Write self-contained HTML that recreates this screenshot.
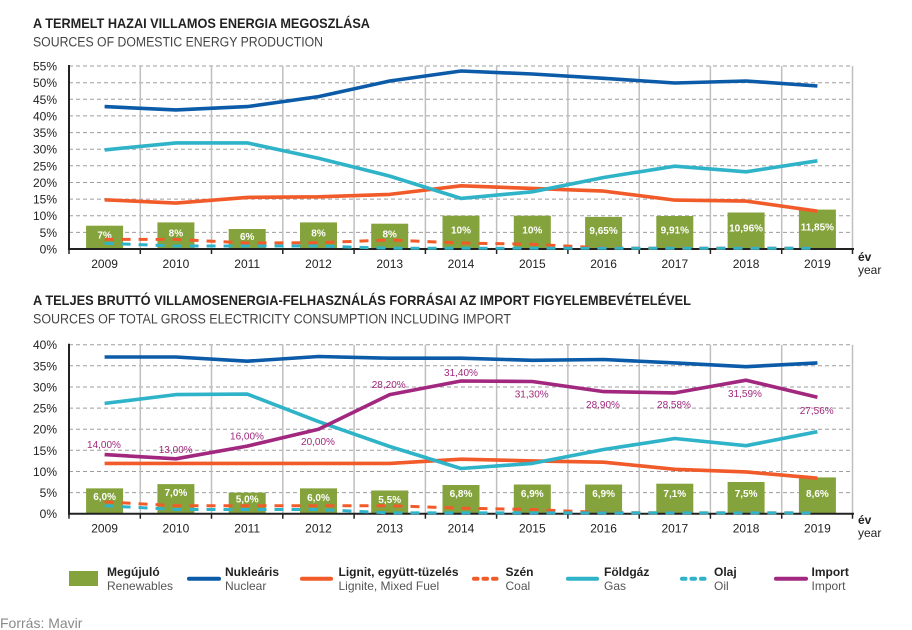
<!DOCTYPE html>
<html>
<head>
<meta charset="utf-8">
<style>
  html, body { margin:0; padding:0; background:#ffffff; }
  body { width:912px; height:630px; overflow:hidden; }
  svg { display:block; font-family:"Liberation Sans","DejaVu Sans",sans-serif; }
  .tick { font-size:12px; fill:#222; text-anchor:end; }
  .yr { font-size:12px; fill:#222; text-anchor:middle; }
  .bl { font-size:10px; font-weight:bold; fill:#ffffff; text-anchor:middle; }
  .il { font-size:10px; fill:#a1287e; text-anchor:middle; }
  .grid { stroke:#9d9d9d; stroke-width:1; stroke-dasharray:4 3; }
  .vg { stroke:#bfbfbf; stroke-width:1.5; }
  .ln { fill:none; stroke-width:3.6; stroke-linejoin:round; stroke-linecap:butt; }
  .dl { fill:none; stroke-width:3; stroke-dasharray:9 8; }
  .lb { font-size:12px; font-weight:bold; fill:#222; }
  .ls { font-size:12px; fill:#555; }
</style>
</head>
<body>
<svg width="912" height="630" viewBox="0 0 912 630" xmlns="http://www.w3.org/2000/svg">
  <!-- ===== TOP CHART ===== -->
  <text x="33" y="28" font-size="14" font-weight="bold" fill="#222" textLength="337" lengthAdjust="spacingAndGlyphs">A TERMELT HAZAI VILLAMOS ENERGIA MEGOSZLÁSA</text>
  <text x="33" y="46.7" font-size="13.5" fill="#444" textLength="290" lengthAdjust="spacingAndGlyphs">SOURCES OF DOMESTIC ENERGY PRODUCTION</text>

  <!-- horizontal grid -->
  <g class="grid">
    <line x1="69" y1="232.4" x2="853" y2="232.4"/>
    <line x1="69" y1="215.7" x2="853" y2="215.7"/>
    <line x1="69" y1="199.1" x2="853" y2="199.1"/>
    <line x1="69" y1="182.5" x2="853" y2="182.5"/>
    <line x1="69" y1="165.8" x2="853" y2="165.8"/>
    <line x1="69" y1="149.2" x2="853" y2="149.2"/>
    <line x1="69" y1="132.6" x2="853" y2="132.6"/>
    <line x1="69" y1="115.9" x2="853" y2="115.9"/>
    <line x1="69" y1="99.3" x2="853" y2="99.3"/>
    <line x1="69" y1="82.7" x2="853" y2="82.7"/>
    <line x1="69" y1="66" x2="853" y2="66"/>
  </g>
  <!-- vertical grid -->
  <g class="vg">
    <line x1="140.3" y1="66" x2="140.3" y2="249"/>
    <line x1="211.5" y1="66" x2="211.5" y2="249"/>
    <line x1="282.8" y1="66" x2="282.8" y2="249"/>
    <line x1="354.1" y1="66" x2="354.1" y2="249"/>
    <line x1="425.4" y1="66" x2="425.4" y2="249"/>
    <line x1="496.6" y1="66" x2="496.6" y2="249"/>
    <line x1="567.9" y1="66" x2="567.9" y2="249"/>
    <line x1="639.2" y1="66" x2="639.2" y2="249"/>
    <line x1="710.4" y1="66" x2="710.4" y2="249"/>
    <line x1="781.7" y1="66" x2="781.7" y2="249"/>
    <line x1="852.5" y1="66" x2="852.5" y2="249"/>
  </g>
  <!-- y tick labels -->
  <g class="tick">
    <text x="57" y="253.5">0%</text>
    <text x="57" y="236.9">5%</text>
    <text x="57" y="220.2">10%</text>
    <text x="57" y="203.6">15%</text>
    <text x="57" y="187">20%</text>
    <text x="57" y="170.3">25%</text>
    <text x="57" y="153.7">30%</text>
    <text x="57" y="137.1">35%</text>
    <text x="57" y="120.4">40%</text>
    <text x="57" y="103.8">45%</text>
    <text x="57" y="87.2">50%</text>
    <text x="57" y="70.5">55%</text>
  </g>
  <!-- bars -->
  <g fill="#85a33c">
    <rect x="86.1" y="225.7" width="37" height="23.3"/>
    <rect x="157.4" y="222.4" width="37" height="26.6"/>
    <rect x="228.7" y="229.0" width="37" height="20.0"/>
    <rect x="300.0" y="222.4" width="37" height="26.6"/>
    <rect x="371.2" y="223.7" width="37" height="25.3"/>
    <rect x="442.5" y="215.7" width="37" height="33.3"/>
    <rect x="513.8" y="215.7" width="37" height="33.3"/>
    <rect x="585.1" y="216.9" width="37" height="32.1"/>
    <rect x="656.3" y="216.0" width="37" height="33.0"/>
    <rect x="727.6" y="212.5" width="37" height="36.5"/>
    <rect x="798.9" y="209.6" width="37" height="39.4"/>
  </g>
  <g class="bl">
    <text x="104.6" y="238.3">7%</text>
    <text x="175.9" y="236.7">8%</text>
    <text x="247.2" y="240">6%</text>
    <text x="318.5" y="236.7">8%</text>
    <text x="389.7" y="237.3">8%</text>
    <text x="461.0" y="233.3">10%</text>
    <text x="532.3" y="233.3">10%</text>
    <text x="603.6" y="233.9">9,65%</text>
    <text x="674.8" y="233.5">9,91%</text>
    <text x="746.1" y="231.7">10,96%</text>
    <text x="817.4" y="230.3">11,85%</text>
  </g>
  <!-- lines -->
  <polyline class="ln" stroke="#f15a29" points="104.6,199.8 175.9,203.1 247.2,197.4 318.5,196.8 389.7,194.4 461.0,185.8 532.3,188.4 603.6,191.1 674.8,200.1 746.1,201.1 817.4,211.1"/>
  <polyline class="ln" stroke="#2fb3c8" points="104.6,149.9 175.9,142.9 247.2,142.9 318.5,158.2 389.7,176.1 461.0,198.4 532.3,191.8 603.6,177.5 674.8,166.2 746.1,171.8 817.4,160.8"/>
  <polyline class="ln" stroke="#0b5ba8" points="104.6,106.6 175.9,109.9 247.2,106.6 318.5,96.6 389.7,81.0 461.0,71.0 532.3,74.0 603.6,78.3 674.8,83.0 746.1,81.0 817.4,86.0"/>
  <!-- axes -->
  <line x1="69" y1="65" x2="69" y2="250" stroke="#222" stroke-width="2"/>
  <line x1="68" y1="249" x2="854" y2="249" stroke="#222" stroke-width="2"/>
  <g stroke="#222" stroke-width="1.5">
    <line x1="69" y1="249" x2="69" y2="254"/>
    <line x1="140.3" y1="249" x2="140.3" y2="254"/>
    <line x1="211.5" y1="249" x2="211.5" y2="254"/>
    <line x1="282.8" y1="249" x2="282.8" y2="254"/>
    <line x1="354.1" y1="249" x2="354.1" y2="254"/>
    <line x1="425.4" y1="249" x2="425.4" y2="254"/>
    <line x1="496.6" y1="249" x2="496.6" y2="254"/>
    <line x1="567.9" y1="249" x2="567.9" y2="254"/>
    <line x1="639.2" y1="249" x2="639.2" y2="254"/>
    <line x1="710.4" y1="249" x2="710.4" y2="254"/>
    <line x1="781.7" y1="249" x2="781.7" y2="254"/>
    <line x1="852.5" y1="249" x2="852.5" y2="254"/>
  </g>
  <!-- dashed -->
  <polyline class="dl" stroke="#f15a29" points="104.6,239.4 175.9,239.4 247.2,243.0 318.5,242.7 389.7,240.0 461.0,243.0 532.3,244.3 603.6,248.0 674.8,248.3 746.1,248.3 817.4,248.3"/>
  <polyline class="dl" stroke="#2fb3c8" points="104.6,243.3 175.9,246.0 247.2,246.0 318.5,246.0 389.7,248.3 461.0,248.3 532.3,248.3 603.6,248.3 674.8,248.3 746.1,248.3 817.4,248.3"/>
  <!-- years -->
  <g class="yr">
    <text x="104.6" y="268">2009</text>
    <text x="175.9" y="268">2010</text>
    <text x="247.2" y="268">2011</text>
    <text x="318.5" y="268">2012</text>
    <text x="389.7" y="268">2013</text>
    <text x="461.0" y="268">2014</text>
    <text x="532.3" y="268">2015</text>
    <text x="603.6" y="268">2016</text>
    <text x="674.8" y="268">2017</text>
    <text x="746.1" y="268">2018</text>
    <text x="817.4" y="268">2019</text>
  </g>
  <text x="858" y="261" font-size="12" font-weight="bold" fill="#222">év</text>
  <text x="858" y="274" font-size="12" fill="#222">year</text>

  <!-- ===== BOTTOM CHART ===== -->
  <text x="33" y="305" font-size="14" font-weight="bold" fill="#222" textLength="658" lengthAdjust="spacingAndGlyphs">A TELJES BRUTTÓ VILLAMOSENERGIA-FELHASZNÁLÁS FORRÁSAI AZ IMPORT FIGYELEMBEVÉTELÉVEL</text>
  <text x="33" y="323.3" font-size="13.5" fill="#444" textLength="478" lengthAdjust="spacingAndGlyphs">SOURCES OF TOTAL GROSS ELECTRICITY CONSUMPTION INCLUDING IMPORT</text>

  <g class="grid">
    <line x1="69" y1="492.6" x2="853" y2="492.6"/>
    <line x1="69" y1="471.5" x2="853" y2="471.5"/>
    <line x1="69" y1="450.3" x2="853" y2="450.3"/>
    <line x1="69" y1="429.2" x2="853" y2="429.2"/>
    <line x1="69" y1="408.1" x2="853" y2="408.1"/>
    <line x1="69" y1="387.0" x2="853" y2="387.0"/>
    <line x1="69" y1="365.8" x2="853" y2="365.8"/>
    <line x1="69" y1="344.7" x2="853" y2="344.7"/>
  </g>
  <g class="vg">
    <line x1="140.3" y1="344.7" x2="140.3" y2="513.7"/>
    <line x1="211.5" y1="344.7" x2="211.5" y2="513.7"/>
    <line x1="282.8" y1="344.7" x2="282.8" y2="513.7"/>
    <line x1="354.1" y1="344.7" x2="354.1" y2="513.7"/>
    <line x1="425.4" y1="344.7" x2="425.4" y2="513.7"/>
    <line x1="496.6" y1="344.7" x2="496.6" y2="513.7"/>
    <line x1="567.9" y1="344.7" x2="567.9" y2="513.7"/>
    <line x1="639.2" y1="344.7" x2="639.2" y2="513.7"/>
    <line x1="710.4" y1="344.7" x2="710.4" y2="513.7"/>
    <line x1="781.7" y1="344.7" x2="781.7" y2="513.7"/>
    <line x1="852.5" y1="344.7" x2="852.5" y2="513.7"/>
  </g>
  <g class="tick">
    <text x="57" y="518.2">0%</text>
    <text x="57" y="497.1">5%</text>
    <text x="57" y="476">10%</text>
    <text x="57" y="454.8">15%</text>
    <text x="57" y="433.7">20%</text>
    <text x="57" y="412.6">25%</text>
    <text x="57" y="391.5">30%</text>
    <text x="57" y="370.3">35%</text>
    <text x="57" y="349.2">40%</text>
  </g>
  <g fill="#85a33c">
    <rect x="86.1" y="488.35" width="37" height="25.35"/>
    <rect x="157.4" y="484.1" width="37" height="29.6"/>
    <rect x="228.7" y="492.6" width="37" height="21.1"/>
    <rect x="300.0" y="488.35" width="37" height="25.35"/>
    <rect x="371.2" y="490.5" width="37" height="23.2"/>
    <rect x="442.5" y="485.0" width="37" height="28.7"/>
    <rect x="513.8" y="484.5" width="37" height="29.2"/>
    <rect x="585.1" y="484.5" width="37" height="29.2"/>
    <rect x="656.3" y="483.7" width="37" height="30.0"/>
    <rect x="727.6" y="482.0" width="37" height="31.7"/>
    <rect x="798.9" y="477.4" width="37" height="36.3"/>
  </g>
  <g class="bl">
    <text x="104.6" y="499.8">6,0%</text>
    <text x="175.9" y="496.2">7,0%</text>
    <text x="247.2" y="502.6">5,0%</text>
    <text x="318.5" y="501.2">6,0%</text>
    <text x="389.7" y="502.8">5,5%</text>
    <text x="461.0" y="496.8">6,8%</text>
    <text x="532.3" y="496.8">6,9%</text>
    <text x="603.6" y="497.2">6,9%</text>
    <text x="674.8" y="496.8">7,1%</text>
    <text x="746.1" y="496.8">7,5%</text>
    <text x="817.4" y="496.8">8,6%</text>
  </g>
  <polyline class="ln" stroke="#f15a29" points="104.6,463.4 175.9,463.4 247.2,463.4 318.5,463.4 389.7,463.4 461.0,459.2 532.3,460.9 603.6,462.2 674.8,469.3 746.1,471.9 817.4,478.2"/>
  <polyline class="ln" stroke="#2fb3c8" points="104.6,403.4 175.9,394.6 247.2,394.1 318.5,421.6 389.7,446.5 461.0,468.5 532.3,463.4 603.6,449.5 674.8,438.5 746.1,445.7 817.4,431.7"/>
  <polyline class="ln" stroke="#0b5ba8" points="104.6,357.0 175.9,357.0 247.2,361.2 318.5,356.5 389.7,358.2 461.0,358.2 532.3,360.3 603.6,359.5 674.8,362.9 746.1,366.7 817.4,362.9"/>
  <polyline class="ln" stroke="#a1287e" points="104.6,454.6 175.9,458.8 247.2,446.1 318.5,429.2 389.7,394.6 461.0,381.0 532.3,381.5 603.6,391.6 674.8,392.9 746.1,380.2 817.4,397.3"/>
  <g class="il">
    <text x="104" y="448">14,00%</text>
    <text x="175.7" y="453">13,00%</text>
    <text x="247" y="439.6">16,00%</text>
    <text x="318" y="445.2">20,00%</text>
    <text x="388.7" y="387.8">28,20%</text>
    <text x="461" y="376.2">31,40%</text>
    <text x="531.7" y="397.5">31,30%</text>
    <text x="603" y="407.8">28,90%</text>
    <text x="674" y="407.8">28,58%</text>
    <text x="745" y="396.8">31,59%</text>
    <text x="816.7" y="413.8">27,56%</text>
  </g>
  <line x1="69" y1="343.7" x2="69" y2="514.7" stroke="#222" stroke-width="2"/>
  <line x1="68" y1="513.7" x2="854" y2="513.7" stroke="#222" stroke-width="2"/>
  <g stroke="#222" stroke-width="1.5">
    <line x1="69" y1="513.7" x2="69" y2="518.7"/>
    <line x1="140.3" y1="513.7" x2="140.3" y2="518.7"/>
    <line x1="211.5" y1="513.7" x2="211.5" y2="518.7"/>
    <line x1="282.8" y1="513.7" x2="282.8" y2="518.7"/>
    <line x1="354.1" y1="513.7" x2="354.1" y2="518.7"/>
    <line x1="425.4" y1="513.7" x2="425.4" y2="518.7"/>
    <line x1="496.6" y1="513.7" x2="496.6" y2="518.7"/>
    <line x1="567.9" y1="513.7" x2="567.9" y2="518.7"/>
    <line x1="639.2" y1="513.7" x2="639.2" y2="518.7"/>
    <line x1="710.4" y1="513.7" x2="710.4" y2="518.7"/>
    <line x1="781.7" y1="513.7" x2="781.7" y2="518.7"/>
    <line x1="852.5" y1="513.7" x2="852.5" y2="518.7"/>
  </g>
  <polyline class="dl" stroke="#f15a29" points="104.6,501.9 175.9,505.7 247.2,505.7 318.5,505.7 389.7,505.7 461.0,508.2 532.3,509.5 603.6,512.6 674.8,512.9 746.1,512.9 817.4,512.9"/>
  <polyline class="dl" stroke="#2fb3c8" points="104.6,505.7 175.9,509.5 247.2,509.5 318.5,509.5 389.7,512.9 461.0,512.9 532.3,512.9 603.6,512.9 674.8,512.9 746.1,512.9 817.4,512.9"/>
  <g class="yr">
    <text x="104.6" y="532.5">2009</text>
    <text x="175.9" y="532.5">2010</text>
    <text x="247.2" y="532.5">2011</text>
    <text x="318.5" y="532.5">2012</text>
    <text x="389.7" y="532.5">2013</text>
    <text x="461.0" y="532.5">2014</text>
    <text x="532.3" y="532.5">2015</text>
    <text x="603.6" y="532.5">2016</text>
    <text x="674.8" y="532.5">2017</text>
    <text x="746.1" y="532.5">2018</text>
    <text x="817.4" y="532.5">2019</text>
  </g>
  <text x="858" y="524" font-size="12" font-weight="bold" fill="#222">év</text>
  <text x="858" y="537" font-size="12" fill="#222">year</text>

  <!-- ===== LEGEND ===== -->
  <rect x="69" y="571" width="29" height="15" fill="#85a33c"/>
  <text x="107" y="576" class="lb">Megújuló</text>
  <text x="107" y="590" class="ls">Renewables</text>

  <line x1="189" y1="578.7" x2="219" y2="578.7" stroke="#0b5ba8" stroke-width="4" stroke-linecap="round"/>
  <text x="225" y="576" class="lb">Nukleáris</text>
  <text x="225" y="590" class="ls">Nuclear</text>

  <line x1="302" y1="578.7" x2="331" y2="578.7" stroke="#f15a29" stroke-width="4" stroke-linecap="round"/>
  <text x="338.5" y="576" class="lb">Lignit, együtt-tüzelés</text>
  <text x="338.5" y="590" class="ls">Lignite, Mixed Fuel</text>

  <line x1="474" y1="578.7" x2="499" y2="578.7" stroke="#f15a29" stroke-width="4" stroke-linecap="round" stroke-dasharray="3.5 6"/>
  <text x="505.5" y="576" class="lb">Szén</text>
  <text x="505.5" y="590" class="ls">Coal</text>

  <line x1="568" y1="578.7" x2="597" y2="578.7" stroke="#2fb3c8" stroke-width="4" stroke-linecap="round"/>
  <text x="604" y="576" class="lb">Földgáz</text>
  <text x="604" y="590" class="ls">Gas</text>

  <line x1="682" y1="578.7" x2="707" y2="578.7" stroke="#2fb3c8" stroke-width="4" stroke-linecap="round" stroke-dasharray="3.5 6"/>
  <text x="714" y="576" class="lb">Olaj</text>
  <text x="714" y="590" class="ls">Oil</text>

  <line x1="776" y1="578.7" x2="806" y2="578.7" stroke="#a1287e" stroke-width="4" stroke-linecap="round"/>
  <text x="811.5" y="576" class="lb">Import</text>
  <text x="811.5" y="590" class="ls">Import</text>

  <text x="0" y="628" font-size="14" fill="#8a8a8a">Forrás: Mavir</text>
</svg>
</body>
</html>
